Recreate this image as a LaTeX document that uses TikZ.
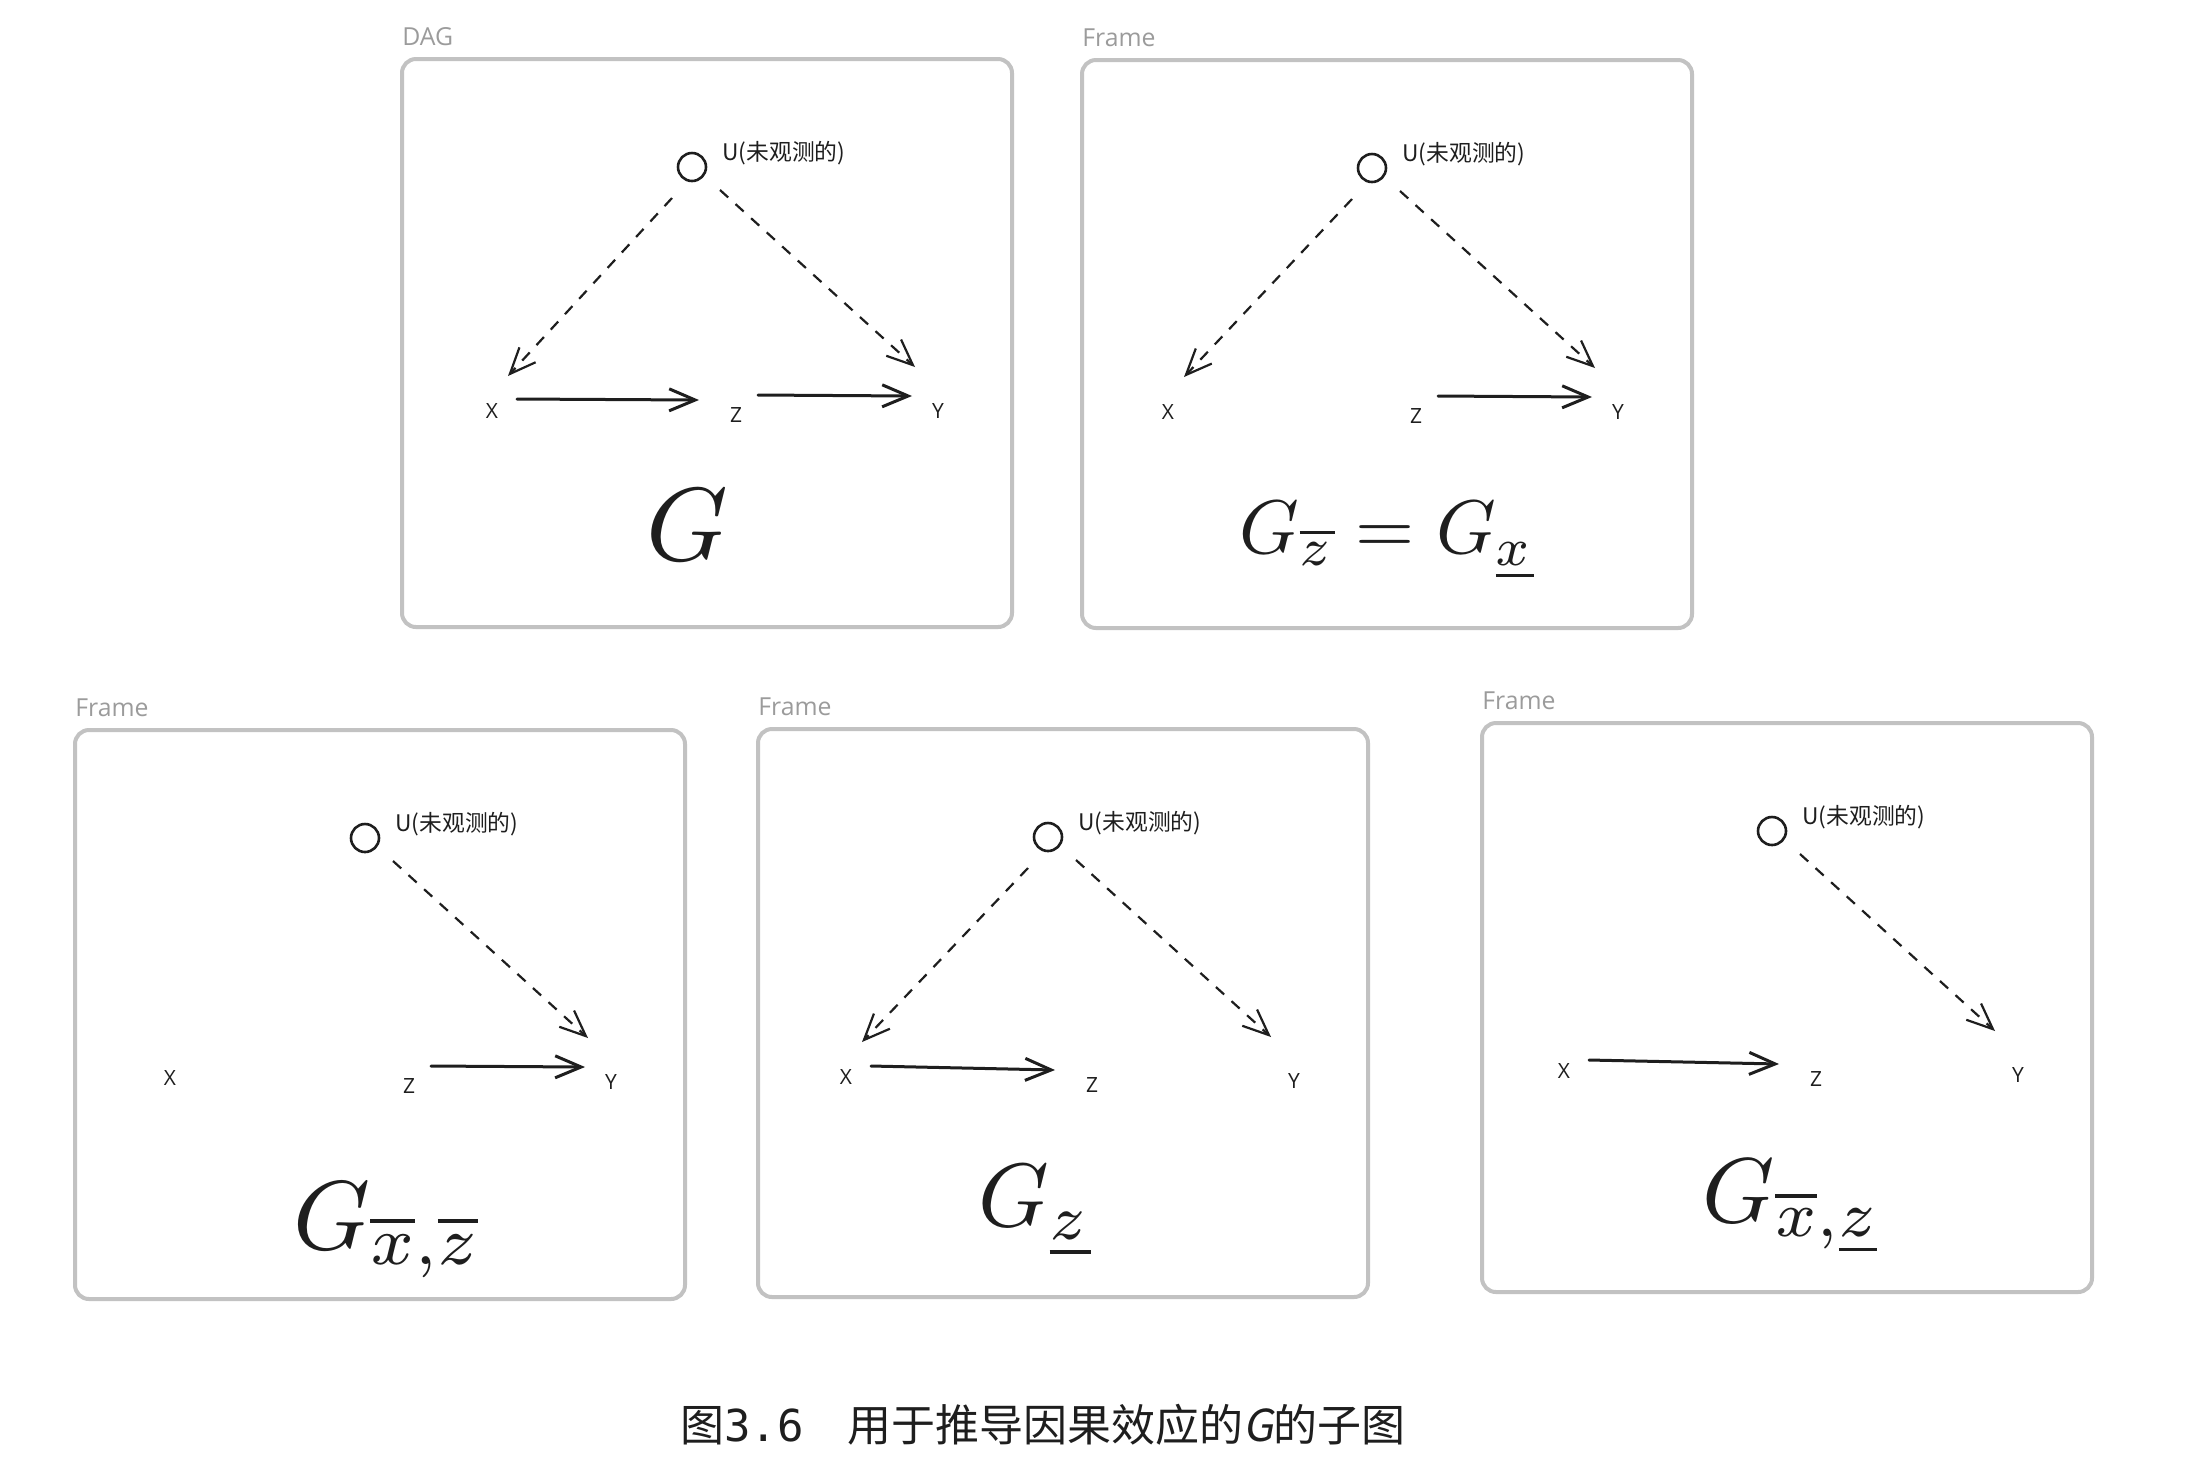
\documentclass[tikz,border=0pt]{standalone}
\usepackage{fontspec}
\setmainfont{Noto Sans CJK SC}
\newfontfamily\cjk{Noto Sans CJK SC}
\newfontfamily\cjkslant[FakeSlant=0.18]{Noto Sans CJK SC}
\newfontfamily\uisans{Open Sans}
\newfontfamily\digitmono{DejaVu Sans Mono}
\usetikzlibrary{arrows.meta,calc}
\definecolor{boxgray}{HTML}{C2C2C2}
\definecolor{taggray}{HTML}{9B9B9B}
\definecolor{ink}{HTML}{1E1E1E}
\tikzset{
  framebox/.style={draw=boxgray, line width=2pt, rounded corners=7pt},
  frametag/.style={text=taggray, font=\uisans\fontsize{12.4}{14}\selectfont, anchor=base west, inner sep=0pt},
  unode/.style={circle, draw=ink, line width=1.3pt, minimum size=14pt, inner sep=0pt},
  utag/.style={text=ink, font=\cjk\fontsize{11.4}{13}\selectfont, anchor=west, inner sep=0pt},
  varnode/.style={text=ink, font=\uisans\fontsize{10.5}{12}\selectfont, inner sep=0pt},
  barbtip/.style={-{Straight Barb[length=13pt,width=11pt]}},
  causal/.style={draw=ink, line width=1.5pt, line cap=round, barbtip},
  confound/.style={draw=ink, line width=1.1pt, dash pattern=on 5.5pt off 5pt, barbtip},
  formula/.style={text=ink, inner sep=0pt},
  captiontext/.style={text=ink, font=\cjk\fontsize{22}{26}\selectfont, inner sep=0pt},
}
\begin{document}
\begin{tikzpicture}[x=0.5pt,y=-0.5pt]
\useasboundingbox (0,0) rectangle (2190,1480);

% ---------- Frame 1: DAG ----------
\begin{scope}[shift={(402,59)}]
  \draw[framebox] (0,0) rectangle (610,568);
  \node[frametag] (tag1) at (0,-14) {DAG};
  \node[unode] (u1) at (290,108) {};
  \node[utag] (ul1) at (320,94) {U(未观测的)};
  \node[varnode] (x1) at (90,352) {X};
  \node[varnode] (z1) at (334,356) {Z};
  \node[varnode] (y1) at (536,352) {Y};
  \draw[confound] ($(u1.center)+(-20,31)$) -- ($(x1.center)+(16,-35)$);
  \draw[confound] ($(u1.center)+(28,23)$) -- ($(y1.center)+(-23,-44)$);
  \draw[causal] ($(x1.center)+(25,-12)$) -- ($(z1.center)+(-37,-15)$);
  \draw[causal] ($(z1.center)+(22,-20)$) -- ($(y1.center)+(-26,-15)$);
  \node[formula] (g1) at (285,466) {\scalebox{5.2}{$G$}};
\end{scope}

% ---------- Frame 2 ----------
\begin{scope}[shift={(1082,60)}]
  \draw[framebox] (0,0) rectangle (610,568);
  \node[frametag] (tag2) at (0,-14) {Frame};
  \node[unode] (u2) at (290,108) {};
  \node[utag] (ul2) at (320,94) {U(未观测的)};
  \node[varnode] (x2) at (86,352) {X};
  \node[varnode] (z2) at (334,356) {Z};
  \node[varnode] (y2) at (536,352) {Y};
  \draw[confound] ($(u2.center)+(-20,31)$) -- ($(x2.center)+(16,-35)$);
  \draw[confound] ($(u2.center)+(28,23)$) -- ($(y2.center)+(-23,-44)$);
  \draw[causal] ($(z2.center)+(22,-20)$) -- ($(y2.center)+(-26,-15)$);
  \node[formula] (g2) at (305,481) {\scalebox{3.8}{$G_{\overline{z}} = G_{\underline{x}}$}};
\end{scope}

% ---------- Frame 3 ----------
\begin{scope}[shift={(75,730)}]
  \draw[framebox] (0,0) rectangle (610,569);
  \node[frametag] (tag3) at (0,-14) {Frame};
  \node[unode] (u3) at (290,108) {};
  \node[utag] (ul3) at (320,94) {U(未观测的)};
  \node[varnode] (x3) at (95,348) {X};
  \node[varnode] (z3) at (334,356) {Z};
  \node[varnode] (y3) at (536,352) {Y};
  \draw[confound] ($(u3.center)+(28,23)$) -- ($(y3.center)+(-23,-44)$);
  \draw[causal] ($(z3.center)+(22,-20)$) -- ($(y3.center)+(-26,-15)$);
  \node[formula] (g3) at (313,500) {\scalebox{4.9}{$G_{\overline{x},\overline{z}}$}};
\end{scope}

% ---------- Frame 4 ----------
\begin{scope}[shift={(758,729)}]
  \draw[framebox] (0,0) rectangle (610,568);
  \node[frametag] (tag4) at (0,-14) {Frame};
  \node[unode] (u4) at (290,108) {};
  \node[utag] (ul4) at (320,94) {U(未观测的)};
  \node[varnode] (x4) at (88,348) {X};
  \node[varnode] (z4) at (334,356) {Z};
  \node[varnode] (y4) at (536,352) {Y};
  \draw[confound] ($(u4.center)+(-20,31)$) -- ($(x4.center)+(16,-35)$);
  \draw[confound] ($(u4.center)+(28,23)$) -- ($(y4.center)+(-23,-44)$);
  \draw[causal] ($(x4.center)+(25,-11)$) -- ($(z4.center)+(-37,-15)$);
  \node[formula] (g4) at (277,482) {\scalebox{4.5}{$G_{\underline{z}}$}};
\end{scope}

% ---------- Frame 5 ----------
\begin{scope}[shift={(1482,723)}]
  \draw[framebox] (0,0) rectangle (610,569);
  \node[frametag] (tag5) at (0,-14) {Frame};
  \node[unode] (u5) at (290,108) {};
  \node[utag] (ul5) at (320,94) {U(未观测的)};
  \node[varnode] (x5) at (82,348) {X};
  \node[varnode] (z5) at (334,356) {Z};
  \node[varnode] (y5) at (536,352) {Y};
  \draw[confound] ($(u5.center)+(28,23)$) -- ($(y5.center)+(-23,-44)$);
  \draw[causal] ($(x5.center)+(25,-11)$) -- ($(z5.center)+(-37,-15)$);
  \node[formula] (g5) at (310,484) {\scalebox{4.6}{$G_{\overline{x},\underline{z}}$}};
\end{scope}

% ---------- Caption ----------
\node[captiontext] (cap) at (1043,1425) {图{\digitmono 3.6}　用于推导因果效应的{\cjkslant G}的子图};
\end{tikzpicture}
\end{document}
